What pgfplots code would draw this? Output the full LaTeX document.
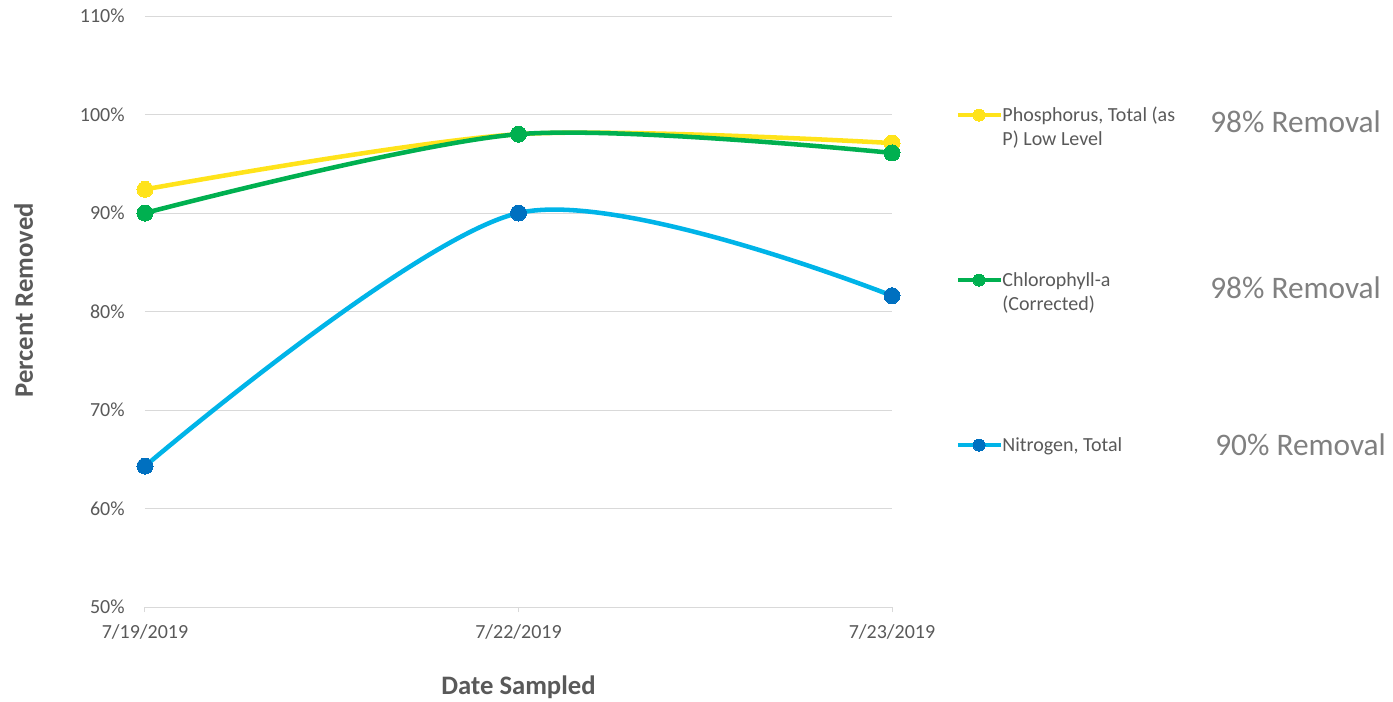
\documentclass[border=0pt]{standalone}
\usepackage{pgfplots}
\pgfplotsset{compat=1.18}
\usepackage{fontspec}
\setmainfont{Carlito}

\definecolor{txtgray}{HTML}{595959}
\definecolor{gridgray}{HTML}{D9D9D9}
\definecolor{notegray}{HTML}{808080}
\definecolor{phos}{HTML}{FFE31A}
\definecolor{chla}{HTML}{00B050}
\definecolor{nitro}{HTML}{00B4E8}
\definecolor{nitromark}{HTML}{0070C0}

\begin{document}
\begin{tikzpicture}
\useasboundingbox (0,0) rectangle (1044.75pt,525.75pt);
\begin{axis}[
  at={(108.75pt,70.5pt)}, anchor=south west,
  scale only axis, width=560.25pt, height=443.25pt,
  xmin=0, xmax=2, ymin=50, ymax=110,
  xtick={0,1,2},
  xticklabels={7/19/2019,7/22/2019,7/23/2019},
  ytick={50,60,...,110},
  yticklabel={\pgfmathprintnumber{\tick}\%},
  /pgf/number format/assume math mode=true,
  axis x line*=bottom, axis y line*=left,
  x axis line style={draw=gridgray, line width=0.75pt},
  y axis line style={draw=none},
  xtick style={draw=gridgray, line width=0.75pt},
  ytick style={draw=none},
  tick align=outside, major tick length=3.75pt,
  ymajorgrids, major grid style={draw=gridgray, line width=0.75pt},
  tick label style={font=\fontsize{15}{18}\selectfont, text=txtgray},
  xticklabel style={yshift=-6pt},
  yticklabel style={xshift=-8pt},
  xlabel={Date Sampled}, ylabel={Percent Removed},
  label style={font=\fontsize{20}{24}\selectfont\bfseries, text=txtgray},
  xlabel style={at={(axis description cs:0.5,-0.1475)}, anchor=base},
  ylabel style={at={(axis description cs:-0.150,0.519)}, anchor=base, rotate=0},
  legend cell align=left,
  legend style={draw=none, fill=none, at={(axis description cs:1.085,0.844)},
    anchor=north west, row sep=0pt, inner sep=0pt,
    nodes={inner sep=0pt, text height=10pt, text depth=113.75pt,
      text width=140pt, align=flush left,
      font=\fontsize{15}{18}\selectfont, text=txtgray}},
  legend image code/.code={
    \draw[mark repeat=2, mark phase=2, #1, line width=3pt, mark size=4.5pt,
      yshift=56.9pt]
      plot coordinates {(0pt,0pt) (16pt,0pt) (32pt,0pt)};
  },
  every axis plot/.append style={line width=3.4pt, smooth, tension=0.5},
]
\addplot[color=phos, mark=*, mark size=6pt, mark options={fill=phos, draw=phos, line width=0pt}]
  coordinates {(0,92.4) (1,98.0) (2,97.1)};
\addlegendentry{Phosphorus, Total (as\\P) Low Level}
\addplot[color=chla, mark=*, mark size=6pt, mark options={fill=chla, draw=chla, line width=0pt}]
  coordinates {(0,90.0) (1,98.0) (2,96.1)};
\addlegendentry{Chlorophyll-a\\(Corrected)}
\addplot[color=nitro, mark=*, mark size=6pt, mark options={fill=nitromark, draw=nitromark, line width=0pt}]
  coordinates {(0,64.3) (1,90.0) (2,81.6)};
\addlegendentry{Nitrogen, Total}
\end{axis}
\node[anchor=mid west, font=\fontsize{23.5}{27}\selectfont, text=notegray, inner sep=0pt] at (907.5pt,429pt) {98\% Removal};
\node[anchor=mid west, font=\fontsize{23.5}{27}\selectfont, text=notegray, inner sep=0pt] at (907.5pt,304.5pt) {98\% Removal};
\node[anchor=mid west, font=\fontsize{23.5}{27}\selectfont, text=notegray, inner sep=0pt] at (911.25pt,186.5pt) {90\% Removal};
\end{tikzpicture}
\end{document}
